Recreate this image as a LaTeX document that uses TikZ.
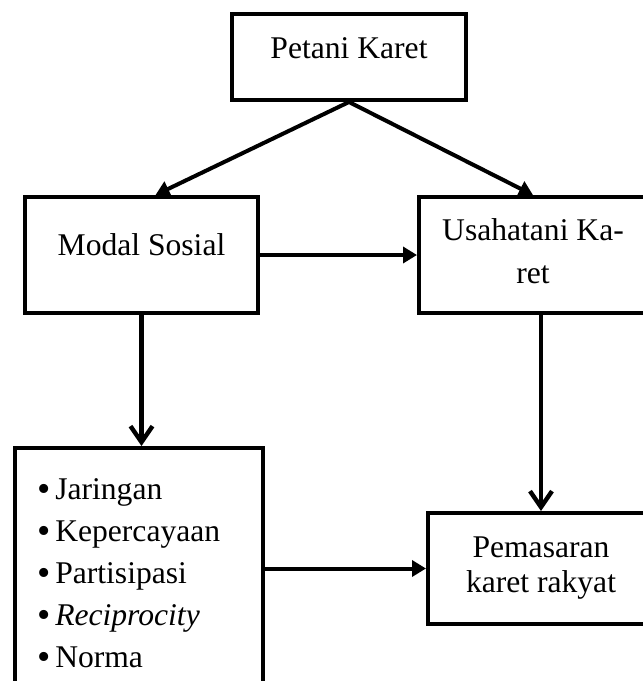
\documentclass[tikz,border=0pt]{standalone}
\usepackage{fontspec}
\setmainfont{Liberation Serif}
\usetikzlibrary{arrows.meta}
\newcommand{\teks}{\fontsize{15.8}{21}\selectfont}
\newcommand{\butir}{\raisebox{-0.7pt}{\scalebox{1.2}{\textbullet}}\hspace{2.5pt}}

\begin{document}
\begin{tikzpicture}[x=0.5pt, y=-0.5pt,
  kotak/.style={draw, line width=2pt, inner sep=0pt, font=\teks},
  panah/.style={line width=2pt, -{Triangle[length=7pt, width=8pt]}},
  panahv/.style={line width=2.2pt, -{Straight Barb[length=8pt, width=11pt]}}]
  \useasboundingbox (0,0) rectangle (643,681);
  \clip (0,0) rectangle (643,681);
  % kotak-kotak
  \node[kotak, minimum width=117pt, text height=22pt, text depth=21pt] (petani) at (349,57) {Petani Karet};
  \node[kotak, minimum width=116.5pt, text height=29pt, text depth=29pt] (modal) at (141.5,255) {Modal Sosial};
  \node[kotak, align=center, minimum width=114pt, text height=43pt, text depth=15pt,
    font=\fontsize{15.8}{21.5}\selectfont] (usaha) at (533,255) {Usahatani Ka-\\ret};
  \node[kotak, align=center, minimum width=113pt, minimum height=55.5pt,
    font=\fontsize{15.8}{17.5}\selectfont] (pemasaran) at (541,568.5) {Pemasaran\\karet rakyat};
  \node[kotak, align=left, text width=102pt, inner xsep=11pt, minimum height=126pt] (faktor) at (139,574)
    {\butir Jaringan\\\butir Kepercayaan\\\butir Partisipasi\\\butir\textit{Reciprocity}\\\butir Norma};
  % panah
  \draw[panah] (petani.south) -- ([xshift=7pt]modal.north);
  \draw[panah] (petani.south) -- (usaha.north);
  \draw[panah] (modal.east) -- (usaha.west);
  \draw[panahv] (modal.south) -- (modal.south |- faktor.north);
  \draw[panahv] (pemasaran.north |- usaha.south) -- (pemasaran.north);
  \draw[panah] (faktor.east |- pemasaran.west) -- (pemasaran.west);
\end{tikzpicture}
\end{document}
